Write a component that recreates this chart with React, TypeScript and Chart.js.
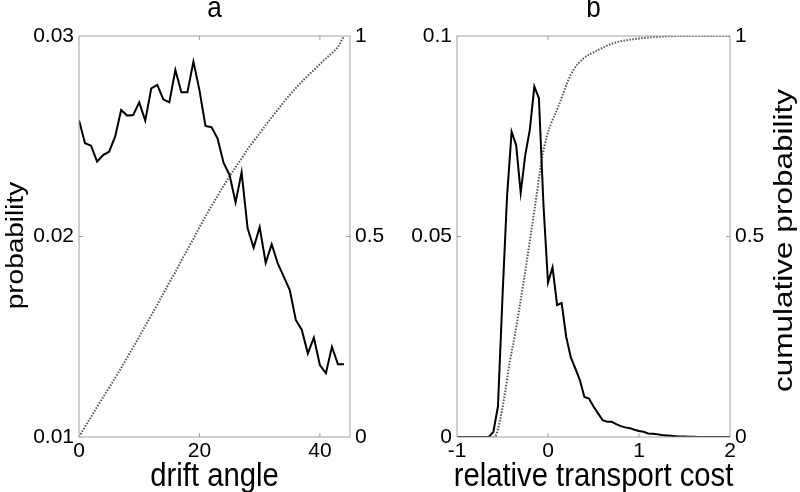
import React, { useEffect, useRef } from 'react';
import { Chart, registerables } from 'chart.js';

Chart.register(...registerables);

const FONT = "'Liberation Sans', Arial, Helvetica, sans-serif";

// ---------- Panel a ----------
const driftAngle = [
  0, 1, 2, 3, 4, 5, 6, 7, 8, 9, 10, 11, 12, 13, 14, 15, 16, 17, 18, 19, 20, 21,
  22, 23, 24, 25, 26, 27, 28, 29, 30, 31, 32, 33, 34, 35, 36, 37, 38, 39, 40,
  41, 42, 43, 44,
];
const driftProb = [
  0.0258, 0.02465, 0.02453, 0.02373, 0.02406, 0.02423, 0.02498, 0.02631,
  0.02603, 0.02606, 0.02669, 0.02578, 0.02739, 0.02756, 0.02684, 0.02669,
  0.0283, 0.02719, 0.02719, 0.02872, 0.0273, 0.02551, 0.02545, 0.0249, 0.02368,
  0.02307, 0.0217, 0.0232, 0.02041, 0.01944, 0.02046, 0.01869, 0.01961,
  0.01866, 0.018, 0.01733, 0.01584, 0.01534, 0.01417, 0.01495, 0.01359,
  0.01318, 0.0145, 0.01363, 0.01363,
];
const driftCum = [
  0, 0.026, 0.05, 0.075, 0.099, 0.123, 0.147, 0.172, 0.198, 0.224, 0.25, 0.277,
  0.303, 0.33, 0.358, 0.385, 0.411, 0.44, 0.467, 0.494, 0.523, 0.55, 0.576,
  0.601, 0.626, 0.65, 0.673, 0.694, 0.718, 0.738, 0.757, 0.778, 0.797, 0.816,
  0.835, 0.853, 0.87, 0.886, 0.901, 0.915, 0.93, 0.944, 0.957, 0.972, 1.0,
];
const driftTicks = [0, 20, 40];
const driftTickLabels = ['0', '20', '40'];
const probTicksA = [0.01, 0.02, 0.03];
const probTickLabelsA = ['0.01', '0.02', '0.03'];
const cumTicks = [0, 0.5, 1];
const cumTickLabels = ['0', '0.5', '1'];

// ---------- Panel b ----------
const costBins = [
  -1, -0.95, -0.9, -0.85, -0.8, -0.75, -0.7, -0.65, -0.6, -0.55, -0.5, -0.45,
  -0.4, -0.35, -0.3, -0.25, -0.2, -0.15, -0.1, -0.05, 0, 0.05, 0.1, 0.15, 0.2,
  0.25, 0.3, 0.35, 0.4, 0.45, 0.5, 0.55, 0.6, 0.65, 0.7, 0.75, 0.8, 0.85, 0.9,
  0.95, 1, 1.05, 1.1, 1.15, 1.2, 1.25, 1.3, 1.35, 1.4, 1.45, 1.5, 1.55, 1.6,
  1.65, 1.7, 1.75, 1.8, 1.85, 1.9, 1.95, 2,
];
const costProb = [
  0, 0, 0, 0, 0, 0, 0, 0, 0.0013, 0.0076, 0.035, 0.06, 0.0761, 0.0728, 0.0609,
  0.0703, 0.0766, 0.0874, 0.0845, 0.058, 0.0385, 0.0423, 0.0329, 0.0334, 0.025,
  0.0199, 0.0171, 0.0142, 0.01, 0.0096, 0.0076, 0.0059, 0.0042, 0.0038, 0.0038,
  0.0032, 0.0027, 0.0024, 0.0022, 0.0018, 0.0015, 0.0013, 0.0009, 0.0008,
  0.0007, 0.0005, 0.0004, 0.0003, 0.0002, 0.0001, 0.0001, 0.00005, 0.00005, 0,
  0, 0, 0, 0, 0, 0, 0,
];
const costCumX = [
  -1, -0.6, -0.57, -0.527, -0.473, -0.418, -0.363, -0.308, -0.271, -0.198,
  -0.14, -0.069, -0.014, 0.04, 0.114, 0.223, 0.279, 0.388, 0.535, 0.718, 1.01,
  1.3, 1.6, 2,
];
const costCumY = [
  0, 0, 0.005, 0.042, 0.109, 0.19, 0.255, 0.33, 0.383, 0.491, 0.58, 0.691,
  0.749, 0.785, 0.824, 0.89, 0.915, 0.944, 0.963, 0.982, 0.994, 0.999, 1, 1,
];
const costTicks = [-1, 0, 1, 2];
const costTickLabels = ['-1', '0', '1', '2'];
const probTicksB = [0, 0.05, 0.1];
const probTickLabelsB = ['0', '0.05', '0.1'];

const FRAME = '#a0a0a0';
const TICK_LEN = 4;

// draws text with a horizontal squeeze factor k (screen x), optionally rotated
function drawText(
  ctx: CanvasRenderingContext2D,
  text: string,
  x: number,
  y: number,
  size: number,
  k: number,
  rotated: boolean,
) {
  ctx.save();
  ctx.translate(x, y);
  ctx.scale(k, 1);
  if (rotated) ctx.rotate(-Math.PI / 2);
  ctx.font = `${size}px ${FONT}`;
  ctx.fillStyle = '#000';
  ctx.textAlign = 'center';
  ctx.textBaseline = 'alphabetic';
  ctx.fillText(text, 0, 0);
  ctx.restore();
}

const decorPlugin = {
  id: 'decor',
  afterDraw(chart: any, _args: any, opts: any) {
    const { ctx, chartArea } = chart;
    const { left, right, top, bottom } = chartArea;
    ctx.save();
    ctx.strokeStyle = FRAME;
    ctx.lineWidth = 1;
    ctx.strokeRect(left, top, right - left, bottom - top);
    ctx.beginPath();
    const xs = chart.scales.x;
    xs.ticks.forEach((t: any) => {
      const p = xs.getPixelForValue(t.value);
      if (p <= left + 1 || p >= right - 1) return;
      ctx.moveTo(p, bottom);
      ctx.lineTo(p, bottom - TICK_LEN);
      ctx.moveTo(p, top);
      ctx.lineTo(p, top + TICK_LEN);
    });
    const yl = chart.scales.yL;
    yl.ticks.forEach((t: any) => {
      const p = yl.getPixelForValue(t.value);
      if (p <= top + 1 || p >= bottom - 1) return;
      ctx.moveTo(left, p);
      ctx.lineTo(left + TICK_LEN, p);
    });
    const yr = chart.scales.yR;
    yr.ticks.forEach((t: any) => {
      const p = yr.getPixelForValue(t.value);
      if (p <= top + 1 || p >= bottom - 1) return;
      ctx.moveTo(right, p);
      ctx.lineTo(right - TICK_LEN, p);
    });
    ctx.stroke();
    ctx.restore();

    const cx = (left + right) / 2;
    const cy = (top + bottom) / 2;
    if (opts.title) drawText(ctx, opts.title, cx, top - 19, 29, 0.9, false);
    if (opts.xTitle) drawText(ctx, opts.xTitle, cx, bottom + 49, 34, 0.86, false);
    if (opts.yTitle) drawText(ctx, opts.yTitle, left - 56, cy + 9, 28, 0.86, true);
    if (opts.rightTitle) drawText(ctx, opts.rightTitle, right + 62, cy + 4, 31.5, 0.8, true);
  },
};

type PanelSpec = {
  title: string;
  xMin: number;
  xMax: number;
  xTicks: number[];
  xTickLabels: string[];
  xTitle: string;
  yMin: number;
  yMax: number;
  yTicks: number[];
  yTickLabels: string[];
  yTitle: string;
  rightTitle: string;
  leftW: number;
  rightW: number;
  probData: { x: number; y: number }[];
  cumData: { x: number; y: number }[];
  smoothCum: boolean;
};

function makeConfig(s: PanelSpec): any {
  const tickFont = { family: FONT, size: 21 };
  return {
    type: 'line',
    data: {
      datasets: [
        {
          data: s.probData,
          yAxisID: 'yL',
          borderColor: '#000',
          borderWidth: 2,
          pointRadius: 0,
          tension: 0,
          fill: false,
        },
        {
          data: s.cumData,
          yAxisID: 'yR',
          borderColor: '#555',
          borderWidth: 2,
          borderDash: [1.5, 1.5],
          pointRadius: 0,
          cubicInterpolationMode: s.smoothCum ? 'monotone' : 'default',
          tension: 0,
          fill: false,
        },
      ],
    },
    options: {
      responsive: false,
      animation: false,
      layout: { padding: { top: 36, left: 0, right: 0, bottom: 0 } },
      plugins: {
        legend: { display: false },
        tooltip: { enabled: false },
        title: { display: false },
        decor: {
          title: s.title,
          xTitle: s.xTitle,
          yTitle: s.yTitle,
          rightTitle: s.rightTitle,
        },
      },
      scales: {
        x: {
          type: 'linear',
          position: 'bottom',
          min: s.xMin,
          max: s.xMax,
          grid: { display: false, drawTicks: false },
          border: { display: false },
          ticks: {
            font: tickFont,
            color: '#000',
            padding: 2,
            maxRotation: 0,
            autoSkip: false,
            callback: (_v: any, i: number) => s.xTickLabels[i],
          },
          afterBuildTicks: (sc: any) => {
            sc.ticks = s.xTicks.map((v) => ({ value: v }));
          },
          afterFit: (sc: any) => {
            sc.height = 55;
          },
        },
        yL: {
          type: 'linear',
          position: 'left',
          min: s.yMin,
          max: s.yMax,
          grid: { display: false, drawTicks: false },
          border: { display: false },
          ticks: {
            font: tickFont,
            color: '#000',
            padding: 5,
            autoSkip: false,
            callback: (_v: any, i: number) => s.yTickLabels[i],
          },
          afterBuildTicks: (sc: any) => {
            sc.ticks = s.yTicks.map((v) => ({ value: v }));
          },
          afterFit: (sc: any) => {
            sc.width = s.leftW;
          },
        },
        yR: {
          type: 'linear',
          position: 'right',
          min: 0,
          max: 1,
          grid: { display: false, drawTicks: false },
          border: { display: false },
          ticks: {
            font: tickFont,
            color: '#000',
            padding: 5,
            autoSkip: false,
            callback: (_v: any, i: number) => cumTickLabels[i],
          },
          afterBuildTicks: (sc: any) => {
            sc.ticks = cumTicks.map((v) => ({ value: v }));
          },
          afterFit: (sc: any) => {
            sc.width = s.rightW;
          },
        },
      },
    },
    plugins: [decorPlugin],
  };
}

const panelA: PanelSpec = {
  title: 'a',
  xMin: 0,
  xMax: 45,
  xTicks: driftTicks,
  xTickLabels: driftTickLabels,
  xTitle: 'drift angle',
  yMin: 0.01,
  yMax: 0.03,
  yTicks: probTicksA,
  yTickLabels: probTickLabelsA,
  yTitle: 'probability',
  rightTitle: '',
  leftW: 79,
  rightW: 50,
  probData: driftAngle.map((x, i) => ({ x, y: driftProb[i] })),
  cumData: driftAngle.map((x, i) => ({ x, y: driftCum[i] })),
  smoothCum: false,
};

const panelB: PanelSpec = {
  title: 'b',
  xMin: -1,
  xMax: 2,
  xTicks: costTicks,
  xTickLabels: costTickLabels,
  xTitle: 'relative transport cost',
  yMin: 0,
  yMax: 0.1,
  yTicks: probTicksB,
  yTickLabels: probTickLabelsB,
  yTitle: '',
  rightTitle: 'cumulative probability',
  leftW: 57,
  rightW: 70,
  probData: costBins.map((x, i) => ({ x, y: costProb[i] })),
  cumData: costCumX.map((x, i) => ({ x, y: costCumY[i] })),
  smoothCum: true,
};

function Panel({ spec, left }: { spec: PanelSpec; left: number }) {
  const ref = useRef<HTMLCanvasElement | null>(null);
  useEffect(() => {
    if (!ref.current) return;
    const chart = new Chart(ref.current, makeConfig(spec));
    return () => chart.destroy();
  }, [spec]);
  return (
    <canvas
      ref={ref}
      width={400}
      height={492}
      style={{ position: 'absolute', left, top: 0, width: 400, height: 492 }}
    />
  );
}

export default function App() {
  return (
    <div
      style={{
        position: 'fixed',
        left: 0,
        top: 0,
        width: 800,
        height: 492,
        background: '#fff',
        overflow: 'hidden',
      }}
    >
      <Panel spec={panelA} left={0} />
      <Panel spec={panelB} left={400} />
    </div>
  );
}
